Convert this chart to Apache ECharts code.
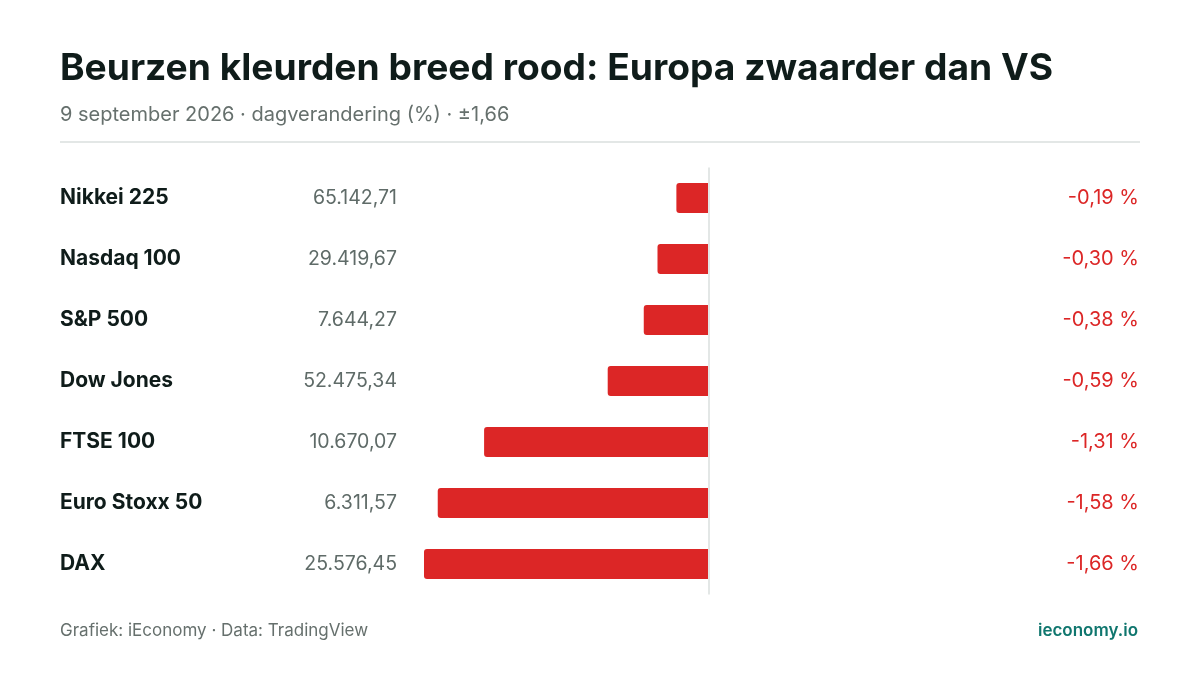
<!DOCTYPE html>
<html>
<head>
<meta charset="utf-8">
<script src="https://cdn.jsdelivr.net/npm/echarts@6/dist/echarts.min.js"></script>
<style>
  html, body { margin: 0; padding: 0; background: #fff; }
  #chart { width: 1200px; height: 675px; }
</style>
</head>
<body>
<div id="chart"></div>
<script>
// indices, slotkoers en dagverandering (%)
const names = ['Nikkei 225', 'Nasdaq 100', 'S&P 500', 'Dow Jones', 'FTSE 100', 'Euro Stoxx 50', 'DAX'];
const levels = ['65.142,71', '29.419,67', '7.644,27', '52.475,34', '10.670,07', '6.311,57', '25.576,45'];
const changes = [-0.19, -0.30, -0.38, -0.59, -1.31, -1.58, -1.66];
const axisMax = 1.66;

const font = 'Inter, "Noto Sans", sans-serif';
const red = '#dc2626';

const pctLabels = changes.map(v => v.toFixed(2).replace('.', ',') + ' %');

const myChart = echarts.init(document.getElementById('chart'));

const option = {
  backgroundColor: '#fff',
  animation: false,
  title: {
    text: 'Beurzen kleurden breed rood: Europa zwaarder dan VS',
    subtext: '9 september 2026 · dagverandering (%) · ±1,66',
    left: 60,
    top: 50,
    padding: 0,
    itemGap: 18,
    textStyle: { fontFamily: font, fontSize: 37.2, fontWeight: 'bold', color: '#0f1c1a' },
    subtextStyle: { fontFamily: font, fontSize: 20, color: '#66706d' }
  },
  grid: { left: 424, right: 206, top: 167.5, bottom: 80.5, containLabel: false },
  xAxis: {
    type: 'value',
    min: -axisMax,
    max: axisMax,
    show: false
  },
  yAxis: [
    {
      type: 'category',
      data: names,
      inverse: true,
      axisLine: { show: false },
      axisTick: { show: false },
      axisLabel: { margin: 364, align: 'left', padding: [2, 0, 0, 0], fontFamily: font, fontSize: 21, fontWeight: 'bold', color: '#0f1c1a' }
    },
    {
      type: 'category',
      data: levels,
      inverse: true,
      position: 'left',
      axisLine: { show: false },
      axisTick: { show: false },
      axisLabel: { margin: 27, align: 'right', padding: [2, 0, 0, 0], fontFamily: font, fontSize: 19.5, color: '#5f6b68' }
    },
    {
      type: 'category',
      data: pctLabels,
      inverse: true,
      position: 'right',
      axisLine: { show: false },
      axisTick: { show: false },
      axisLabel: { margin: 145, align: 'right', padding: [2, 0, 0, 0], fontFamily: font, fontSize: 20, color: red }
    }
  ],
  series: [{
    type: 'bar',
    data: changes,
    barWidth: 30,
    itemStyle: { color: red, borderRadius: [3, 0, 0, 3] },
    markLine: {
      silent: true,
      symbol: 'none',
      label: { show: false },
      lineStyle: { color: '#e3e7e6', width: 2, type: 'solid' },
      data: [{ xAxis: 0 }]
    }
  }],
  graphic: [
    { type: 'rect', shape: { x: 60, y: 141, width: 1080, height: 2 }, style: { fill: '#e3e7e6' } },
    { type: 'text', left: 60, top: 622, style: { text: 'Grafiek: iEconomy · Data: TradingView', font: '17px ' + font, fill: '#66706d' } },
    { type: 'text', right: 62, top: 622, style: { text: 'ieconomy.io', font: '600 17px ' + font, fill: '#0f766e' } }
  ]
};

myChart.setOption(option);
window.addEventListener('resize', () => myChart.resize());
</script>
</body>
</html>
